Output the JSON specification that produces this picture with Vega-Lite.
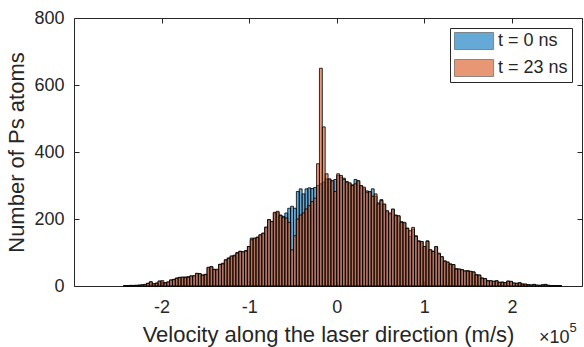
{
 "$schema": "https://vega.github.io/schema/vega-lite/v6.json",
 "width": 508,
 "height": 268,
 "autosize": "none",
 "padding": {"left": 74, "top": 18, "right": 2, "bottom": 61},
 "background": "white",
 "config": {"view": {"stroke": "#262626", "strokeWidth": 1}, "font": "Liberation Sans"},
 "data": {"values": [
  {"v":-242425,"a":1,"b":1},{"v":-239135,"a":1,"b":1},{"v":-235845,"a":2,"b":1},{"v":-232555,"a":1,"b":2},
  {"v":-229265,"a":2,"b":2},{"v":-225975,"a":3,"b":2},{"v":-222685,"a":3,"b":4},{"v":-219395,"a":4,"b":5},
  {"v":-216105,"a":8,"b":8},{"v":-212815,"a":12,"b":13},{"v":-209525,"a":6,"b":7},{"v":-206235,"a":9,"b":8},
  {"v":-202945,"a":14,"b":15},{"v":-199655,"a":11,"b":16},{"v":-196365,"a":10,"b":9},{"v":-193075,"a":12,"b":12},
  {"v":-189785,"a":18,"b":18},{"v":-186495,"a":20,"b":19},{"v":-183205,"a":24,"b":23},{"v":-179915,"a":26,"b":25},
  {"v":-176625,"a":25,"b":27},{"v":-173335,"a":27,"b":25},{"v":-170045,"a":28,"b":26},{"v":-166755,"a":30,"b":30},
  {"v":-163465,"a":29,"b":31},{"v":-160175,"a":37,"b":38},{"v":-156885,"a":36,"b":37},{"v":-153595,"a":33,"b":32},
  {"v":-150305,"a":35,"b":34},{"v":-147015,"a":55,"b":56},{"v":-143725,"a":57,"b":58},{"v":-140435,"a":50,"b":49},
  {"v":-137145,"a":48,"b":50},{"v":-133855,"a":65,"b":64},{"v":-130565,"a":68,"b":66},{"v":-127275,"a":78,"b":78},
  {"v":-123985,"a":84,"b":82},{"v":-120695,"a":88,"b":90},{"v":-117405,"a":92,"b":90},{"v":-114115,"a":100,"b":98},
  {"v":-110825,"a":104,"b":103},{"v":-107535,"a":102,"b":102},{"v":-104245,"a":106,"b":104},{"v":-100955,"a":118,"b":118},
  {"v":-97665,"a":143,"b":138},{"v":-94375,"a":142,"b":143},{"v":-91085,"a":146,"b":145},{"v":-87795,"a":152,"b":153},
  {"v":-84505,"a":158,"b":157},{"v":-81215,"a":175,"b":176},{"v":-77925,"a":198,"b":198},{"v":-74635,"a":192,"b":193},
  {"v":-71345,"a":218,"b":220},{"v":-68055,"a":220,"b":223},{"v":-64765,"a":212,"b":210},{"v":-61475,"a":208,"b":205},
  {"v":-58185,"a":218,"b":203},{"v":-54895,"a":232,"b":190},{"v":-51605,"a":238,"b":108},{"v":-48315,"a":232,"b":150},
  {"v":-45025,"a":282,"b":200},{"v":-41735,"a":290,"b":212},{"v":-38445,"a":275,"b":218},{"v":-35155,"a":290,"b":230},
  {"v":-31865,"a":293,"b":240},{"v":-28575,"a":291,"b":252},{"v":-25285,"a":294,"b":262},{"v":-21995,"a":300,"b":365},
  {"v":-18705,"a":305,"b":650},{"v":-15415,"a":310,"b":475},{"v":-12125,"a":320,"b":335},{"v":-8835,"a":318,"b":320},
  {"v":-5545,"a":312,"b":315},{"v":-2255,"a":318,"b":282},{"v":1035,"a":330,"b":335},{"v":4325,"a":325,"b":330},
  {"v":7615,"a":322,"b":318},{"v":10905,"a":312,"b":310},{"v":14195,"a":305,"b":308},{"v":17485,"a":302,"b":300},
  {"v":20775,"a":318,"b":305},{"v":24065,"a":312,"b":315},{"v":27355,"a":298,"b":300},{"v":30645,"a":290,"b":295},
  {"v":33935,"a":284,"b":280},{"v":37225,"a":280,"b":282},{"v":40515,"a":290,"b":268},{"v":43805,"a":268,"b":275},
  {"v":47095,"a":248,"b":245},{"v":50385,"a":258,"b":255},{"v":53675,"a":243,"b":245},{"v":56965,"a":222,"b":225},
  {"v":60255,"a":215,"b":218},{"v":63545,"a":228,"b":230},{"v":66835,"a":212,"b":210},{"v":70125,"a":208,"b":210},
  {"v":73415,"a":192,"b":190},{"v":76705,"a":188,"b":190},{"v":79995,"a":173,"b":172},{"v":83285,"a":148,"b":165},
  {"v":86575,"a":170,"b":175},{"v":89865,"a":150,"b":148},{"v":93155,"a":135,"b":133},{"v":96445,"a":132,"b":133},
  {"v":99735,"a":118,"b":118},{"v":103025,"a":135,"b":133},{"v":106315,"a":108,"b":108},{"v":109605,"a":104,"b":103},
  {"v":112895,"a":117,"b":118},{"v":116185,"a":98,"b":96},{"v":119475,"a":86,"b":88},{"v":122765,"a":75,"b":74},
  {"v":126055,"a":70,"b":72},{"v":129345,"a":66,"b":65},{"v":132635,"a":64,"b":64},{"v":135925,"a":52,"b":50},
  {"v":139215,"a":50,"b":51},{"v":142505,"a":48,"b":49},{"v":145795,"a":45,"b":45},{"v":149085,"a":46,"b":44},
  {"v":152375,"a":43,"b":44},{"v":155665,"a":42,"b":42},{"v":158955,"a":34,"b":33},{"v":162245,"a":32,"b":33},
  {"v":165535,"a":24,"b":23},{"v":168825,"a":22,"b":22},{"v":172115,"a":16,"b":15},{"v":175405,"a":15,"b":16},
  {"v":178695,"a":14,"b":14},{"v":181985,"a":16,"b":15},{"v":185275,"a":11,"b":11},{"v":188565,"a":12,"b":11},
  {"v":191855,"a":10,"b":10},{"v":195145,"a":15,"b":14},{"v":198435,"a":13,"b":14},{"v":201725,"a":9,"b":9},
  {"v":205015,"a":8,"b":8},{"v":208305,"a":10,"b":9},{"v":211595,"a":6,"b":6},{"v":214885,"a":5,"b":6},
  {"v":218175,"a":4,"b":4},{"v":221465,"a":3,"b":3},{"v":224755,"a":5,"b":4},{"v":228045,"a":2,"b":3},
  {"v":231335,"a":2,"b":2},{"v":234625,"a":3,"b":4},{"v":237915,"a":5,"b":4},{"v":241205,"a":2,"b":2},
  {"v":244495,"a":1,"b":1},{"v":247785,"a":1,"b":1},{"v":251075,"a":1,"b":0},{"v":254365,"a":1,"b":1}
 ]},
 "layer": [
  {
   "mark": {"type": "bar", "fillOpacity": 0.6, "stroke": "#000000", "strokeWidth": 0.8, "binSpacing": 0},
   "encoding": {
    "x": {"field": "v", "type": "quantitative", "bin": {"extent": [-300000, 280000], "step": 3290, "nice": false},
          "scale": {"domain": [-300000, 280000], "nice": false, "zero": false},
          "axis": {"orient": "bottom", "values": [-200000, -100000, 0, 100000, 200000], "labelExpr": "datum.value/100000",
                   "title": "Velocity along the laser direction (m/s)", "grid": false, "domain": false,
                   "tickSize": -5, "tickColor": "#262626", "labelColor": "#262626", "labelFontSize": 18, "labelPadding": 17,
                   "titleFontSize": 22, "titleFontWeight": "normal", "titleColor": "#262626", "titlePadding": 8}},
    "y": {"field": "a", "type": "quantitative", "scale": {"domain": [0, 800], "nice": false},
          "axis": {"orient": "left", "values": [0, 200, 400, 600, 800], "title": "Number of Ps atoms", "grid": false,
                   "domain": false, "tickSize": -5, "tickColor": "#262626", "labelColor": "#262626", "labelFontSize": 18,
                   "labelPadding": 15, "titleFontSize": 22, "titleFontWeight": "normal", "titleColor": "#262626", "titlePadding": 5}},
    "color": {"datum": "t = 0 ns", "type": "nominal",
              "scale": {"domain": ["t = 0 ns", "t = 23 ns"], "range": ["#0072BD", "#D95319"]},
              "legend": {"title": null, "orient": "top-right", "offset": 10, "fillColor": "white", "strokeColor": "#262626",
                         "padding": 4, "cornerRadius": 0, "symbolType": "M-1,-1H3.6V1H-1Z", "symbolSize": 289,
                         "symbolStrokeColor": "#262626", "symbolStrokeWidth": 0.7, "symbolOpacity": 0.6,
                         "labelFontSize": 18, "labelColor": "#262626", "labelOffset": 26, "rowPadding": 7}}
   }
  },
  {
   "mark": {"type": "bar", "fillOpacity": 0.6, "stroke": "#000000", "strokeWidth": 0.8, "binSpacing": 0},
   "encoding": {
    "x": {"field": "v", "type": "quantitative", "bin": {"extent": [-300000, 280000], "step": 3290, "nice": false},
          "axis": {"orient": "top", "values": [-200000, -100000, 0, 100000, 200000], "labels": false, "title": null,
                   "grid": false, "domain": false, "tickSize": -5, "tickColor": "#262626"}},
    "y": {"field": "b", "type": "quantitative",
          "axis": {"orient": "right", "values": [0, 200, 400, 600, 800], "labels": false, "title": null,
                   "grid": false, "domain": false, "tickSize": -5, "tickColor": "#262626"}},
    "color": {"datum": "t = 23 ns", "type": "nominal"}
   }
  },
  {
   "data": {"values": [{}]},
   "mark": {"type": "text", "text": "×10", "align": "right", "baseline": "alphabetic", "fontSize": 18, "color": "#262626"},
   "encoding": {
    "x": {"datum": 265700, "type": "quantitative", "axis": null},
    "y": {"datum": -170, "type": "quantitative", "axis": null}
   }
  },
  {
   "data": {"values": [{}]},
   "mark": {"type": "text", "text": "5", "align": "left", "baseline": "alphabetic", "fontSize": 13, "color": "#262626"},
   "encoding": {
    "x": {"datum": 265700, "type": "quantitative", "axis": null},
    "y": {"datum": -137, "type": "quantitative", "axis": null}
   }
  }
 ],
 "resolve": {"axis": {"x": "independent", "y": "independent"}}
}
